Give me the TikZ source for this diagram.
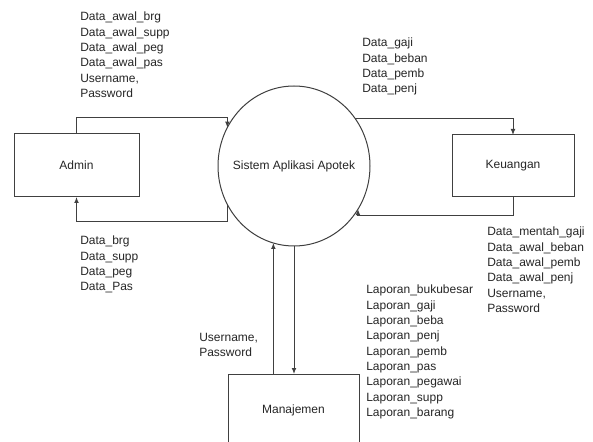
\documentclass[tikz,border=0pt]{standalone}
\usepackage{fontspec}
\setmainfont{Liberation Sans}
\usetikzlibrary{arrows.meta,shapes.geometric}
\begin{document}
\begin{tikzpicture}[x=0.75pt,y=-0.75pt,
  txt/.style={font=\fontsize{9pt}{11.5pt}\selectfont, text=black!85},
  line/.style={draw=black!75, line width=0.75pt},
  arr/.style={line, -{Latex[length=4.5pt,width=3.6pt]}},
  ent/.style={line, txt, rectangle, inner sep=0pt, outer sep=0pt},
  proc/.style={line, txt, ellipse, minimum width=114pt, minimum height=120pt, inner sep=0pt, outer sep=0pt},
  lbl/.style={txt, anchor=north west, inner sep=0pt, align=left}
]
\useasboundingbox (0,0) rectangle (593,442);
\fill[white] (0,0) rectangle (593,442);

% entities and process
\node[ent, minimum width=93.75pt, minimum height=47.25pt] (admin) at (76.5,165.5) {Admin};
\node[ent, minimum width=91.5pt, minimum height=46.5pt] (keu) at (513,166) {Keuangan};
\node[ent, minimum width=98.25pt, minimum height=54pt] (man) at (293.5,410) {Manajemen};
\node[proc] (sys) at (294,166) {\makebox[0pt]{Sistem Aplikasi Apotek}};

% flows
\draw[arr] (admin.north) |- (sys.150 |- 0,118) -- (sys.150);
\draw[arr] (sys.210) -- (sys.210 |- 0,222) -| (admin.south);
\draw[arr] (sys.38) -| (keu.north);
\draw[arr] (keu.south) |- (sys.326 |- 0,216) -- (sys.326);
\draw[arr] (man.north -| sys.255) -- (sys.255);
\draw[arr] (sys.south) -- (sys.south |- man.north);

% labels
\node[lbl] (l1) at (80,12) {Data\_awal\_brg\\Data\_awal\_supp\\Data\_awal\_peg\\Data\_awal\_pas\\Username,\\Password};
\node[lbl] (l2) at (362,38) {Data\_gaji\\Data\_beban\\Data\_pemb\\Data\_penj};
\node[lbl] (l3) at (80,236) {Data\_brg\\Data\_supp\\Data\_peg\\Data\_Pas};
\node[lbl] (l4) at (487,227) {Data\_mentah\_gaji\\Data\_awal\_beban\\Data\_awal\_pemb\\Data\_awal\_penj\\Username,\\Password};
\node[lbl] (l5) at (366,285) {Laporan\_bukubesar\\Laporan\_gaji\\Laporan\_beba\\Laporan\_penj\\Laporan\_pemb\\Laporan\_pas\\Laporan\_pegawai\\Laporan\_supp\\Laporan\_barang};
\node[lbl] (l6) at (199,333) {Username,\\Password};
\end{tikzpicture}
\end{document}
